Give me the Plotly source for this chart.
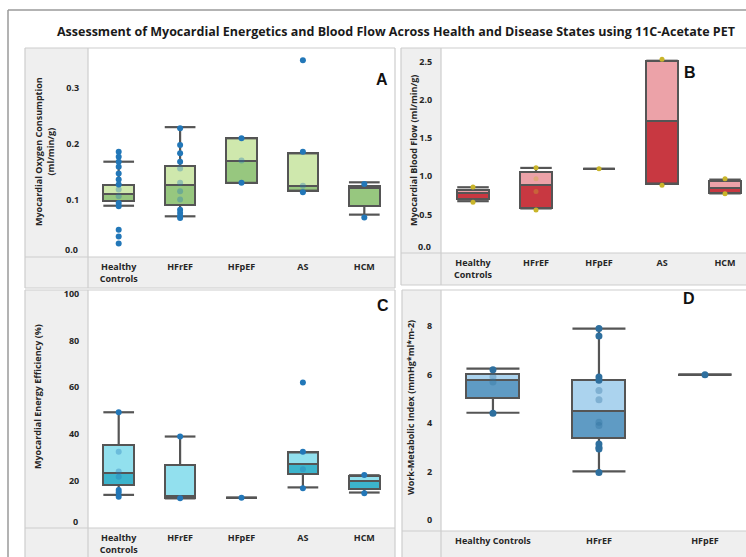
import plotly.graph_objects as go

# ---------------- data ----------------
cats_main = ["Healthy<br>Controls", "HFrEF", "HFpEF", "AS", "HCM"]
cats_D = ["Healthy Controls", "HFrEF", "HFpEF"]

# Panel A: Myocardial Oxygen Consumption (ml/min/g)
A_ticks = [0.0, 0.1, 0.2, 0.3]
A_q1 = [0.098, 0.091, 0.130, 0.116, 0.088]
A_med = [0.110, 0.127, 0.170, 0.125, 0.121]
A_q3 = [0.127, 0.161, 0.210, 0.183, 0.124]
A_lo = [0.089, 0.070, 0.130, 0.116, 0.073]
A_hi = [0.168, 0.230, 0.210, 0.183, 0.131]
A_pts = [
    [0.186, 0.177, 0.168, 0.159, 0.147, 0.136, 0.127, 0.118, 0.106, 0.094, 0.088, 0.046, 0.034, 0.021],
    [0.228, 0.198, 0.183, 0.168, 0.156, 0.130, 0.115, 0.100, 0.082, 0.076, 0.070, 0.067],
    [0.210, 0.170, 0.130],
    [0.350, 0.186, 0.125, 0.113],
    [0.128, 0.068],
]

# Panel B: Myocardial Blood Flow (ml/min/g)
B_ticks = [0.0, 0.5, 1.0, 1.5, 2.0, 2.5]
B_q1 = [0.700, 0.580, 1.096, 0.904, 0.785]
B_med = [0.775, 0.880, 1.096, 1.716, 0.850]
B_q3 = [0.820, 1.050, 1.096, 2.510, 0.940]
B_lo = [0.673, 0.578, 1.096, 0.904, 0.775]
B_hi = [0.855, 1.108, 1.096, 2.510, 0.955]
B_pts = [
    [0.86, 0.66],
    [1.11, 0.965, 0.80, 0.556],
    [1.096],
    [2.53, 0.88],
    [0.965, 0.77],
]

# Panel C: Myocardial Energy Efficiency (%)
C_ticks = [0, 20, 40, 60, 80, 100]
C_q1 = [18.1, 12.4, 12.7, 22.7, 16.3]
C_med = [23.4, 13.4, 12.7, 27.0, 19.9]
C_q3 = [35.3, 26.7, 12.7, 32.1, 21.8]
C_lo = [13.9, 12.4, 12.7, 17.1, 14.9]
C_hi = [49.3, 38.9, 12.7, 32.1, 22.3]
C_pts = [
    [49.3, 32.4, 23.9, 21.7, 16.0, 14.9, 13.1],
    [38.9, 12.4],
    [12.7],
    [62.1, 32.4, 24.9, 16.7],
    [22.4, 14.6],
]

# Panel D: Work-Metabolic Index
D_ticks = [0, 2, 4, 6, 8]
D_q1 = [5.05, 3.39, 6.0]
D_med = [5.79, 4.52, 6.0]
D_q3 = [6.04, 5.79, 6.0]
D_lo = [4.43, 2.01, 6.0]
D_hi = [6.25, 7.90, 6.0]
D_pts = [
    [6.2, 5.9, 5.7, 4.41],
    [7.9, 7.59, 5.9, 5.77, 5.35, 4.97, 4.04, 3.9, 3.14, 3.0, 2.94, 1.97],
    [6.0],
]

TITLE = "Assessment of Myocardial Energetics and Blood Flow Across Health and Disease States using 11C-Acetate PET"

# ---------------- layout helpers ----------------
W, H = 746, 557
def px(x):
    return x / W
def py(y):
    return 1 - y / H

FONT = "Open Sans"
OUT = "#555555"
BOXW = 0.5
BAND = "#efefef"
EDGE = "#cdcdcd"
TXT = "#262626"

panels = [
    dict(name="A", xa="x", ya="y", cats=cats_main, ticks=A_ticks, q1=A_q1, med=A_med, q3=A_q3, lo=A_lo, hi=A_hi, pts=A_pts,
         light="#cfe8ad", dark="#97c77f", ptc="#2277b8", ps=6,
         frame=(25, 48, 395, 288), plot=(88, 48, 395, 257),
         xr=[-0.5, 4.5], yr=[-0.003, 0.372], fmt=".1f", lift0=True,
         ytitle="Myocardial Oxygen Consumption<br>(ml/min/g)", yt=(44, 152),
         letter=(382, 79)),
    dict(name="B", xa="x2", ya="y2", cats=cats_main, ticks=B_ticks, q1=B_q1, med=B_med, q3=B_q3, lo=B_lo, hi=B_hi, pts=B_pts,
         light="#eca2a8", dark="#c83841", ptc="#c9b52a", ps=5,
         frame=(401, 48, 760, 285), plot=(441, 48, 746, 253),
         xr=[-0.508, 4.333], yr=[-0.005, 2.677], fmt=".1f", lift0=True,
         ytitle="Myocardial Blood Flow (ml/min/g)", yt=(413, 151),
         letter=(690, 72)),
    dict(name="C", xa="x3", ya="y3", cats=cats_main, ticks=C_ticks, q1=C_q1, med=C_med, q3=C_q3, lo=C_lo, hi=C_hi, pts=C_pts,
         light="#92e0ee", dark="#3cb4cc", ptc="#2277b8", ps=6,
         frame=(25, 290, 395, 570), plot=(88, 290, 395, 528),
         xr=[-0.5, 4.5], yr=[-0.3, 101.7], fmt="d", lift0=True,
         ytitle="Myocardial Energy Efficiency (%)", yt=(37, 397),
         letter=(383, 305)),
    dict(name="D", xa="x4", ya="y4", cats=cats_D, ticks=D_ticks, q1=D_q1, med=D_med, q3=D_q3, lo=D_lo, hi=D_hi, pts=D_pts,
         light="#abd3ee", dark="#5f9bc4", ptc="#2e6f9e", ps=7,
         frame=(402, 290, 760, 570), plot=(441, 290, 746, 531),
         xr=[-0.49, 2.387], yr=[-0.445, 9.49], fmt="d", lift0=False,
         ytitle="Work-Metabolic Index (mmHg*ml*m-2)", yt=(410, 408),
         letter=(689, 298)),
]

fig = go.Figure()
shapes = []
annotations = []

def hline(x0, x1, y, color=EDGE, w=1.2):
    return dict(type="line", xref="paper", yref="paper", layer="above",
                x0=px(x0), x1=px(x1), y0=py(y), y1=py(y), line=dict(color=color, width=w))

def vline(x, y0, y1, color=EDGE, w=1.2):
    return dict(type="line", xref="paper", yref="paper", layer="above",
                x0=px(x), x1=px(x), y0=py(y0), y1=py(y1), line=dict(color=color, width=w))

for i, p in enumerate(panels):
    n = len(p["cats"])
    idx = list(range(n))
    # lower half of box (Q1 -> median)
    fig.add_trace(go.Bar(
        x=idx, base=p["q1"], y=[m - q for m, q in zip(p["med"], p["q1"])], width=BOXW,
        marker=dict(color=p["dark"], line=dict(color=OUT, width=2)),
        xaxis=p["xa"], yaxis=p["ya"], showlegend=False, hoverinfo="skip"))
    # upper half of box (median -> Q3)
    fig.add_trace(go.Bar(
        x=idx, base=p["med"], y=[q - m for q, m in zip(p["q3"], p["med"])], width=BOXW,
        marker=dict(color=p["light"], line=dict(color=OUT, width=2)),
        xaxis=p["xa"], yaxis=p["ya"], showlegend=False, hoverinfo="skip"))
    # whiskers and caps
    wx, wy = [], []
    for k in idx:
        wx += [k, k, None, k, k, None]
        wy += [p["q3"][k], p["hi"][k], None, p["q1"][k], p["lo"][k], None]
        wx += [k - BOXW / 2, k + BOXW / 2, None, k - BOXW / 2, k + BOXW / 2, None]
        wy += [p["hi"][k], p["hi"][k], None, p["lo"][k], p["lo"][k], None]
    fig.add_trace(go.Scatter(
        x=wx, y=wy, mode="lines", line=dict(color=OUT, width=2.2),
        xaxis=p["xa"], yaxis=p["ya"], showlegend=False, hoverinfo="skip"))
    # data points
    px_, py_, op = [], [], []
    for k in idx:
        for v in p["pts"][k]:
            px_.append(k)
            py_.append(v)
            rng = p["q3"][k] - p["q1"][k]
            inside = rng > 0 and (p["q1"][k] + 0.04 * rng) < v < (p["q3"][k] - 0.04 * rng)
            op.append(0.35 if inside else 1.0)
    fig.add_trace(go.Scatter(
        x=px_, y=py_, mode="markers",
        marker=dict(color=p["ptc"], size=p["ps"], opacity=op, line=dict(width=0)),
        xaxis=p["xa"], yaxis=p["ya"], showlegend=False, hoverinfo="skip"))

    fx0, fy0, fx1, fy1 = p["frame"]
    lx0, ly0, lx1, ly1 = p["plot"]
    # grey axis bands (left band and bottom band)
    shapes.append(dict(type="rect", xref="paper", yref="paper", layer="below",
                       x0=px(fx0), x1=px(lx0), y0=py(fy1), y1=py(fy0),
                       fillcolor=BAND, line=dict(width=0)))
    shapes.append(dict(type="rect", xref="paper", yref="paper", layer="below",
                       x0=px(fx0), x1=px(fx1), y0=py(fy1), y1=py(ly1),
                       fillcolor=BAND, line=dict(width=0)))
    # frame and separators
    shapes.append(hline(fx0, fx1, fy0))
    shapes.append(hline(fx0, fx1, fy1))
    shapes.append(vline(fx0, fy0, fy1))
    shapes.append(vline(fx1, fy0, fy1))
    shapes.append(vline(lx0, fy0, fy1))
    shapes.append(hline(fx0, fx1, ly1))

    ticks = p["ticks"]
    shown = ticks[1:] if p["lift0"] else ticks
    axis_suffix = "" if i == 0 else str(i + 1)
    fig.update_layout(**{
        "xaxis" + axis_suffix: dict(
            domain=[px(lx0), min(1.0, px(lx1))], anchor="y" + axis_suffix,
            range=p["xr"], tickmode="array", tickvals=idx, ticktext=p["cats"],
            showgrid=False, zeroline=False, showline=False, fixedrange=True, automargin=False,
            ticks="outside", ticklen=1, tickcolor="rgba(0,0,0,0)",
            tickfont=dict(family=FONT, size=9, color=TXT, weight="bold")),
        "yaxis" + axis_suffix: dict(
            domain=[py(ly1), py(ly0)], anchor="x" + axis_suffix,
            range=p["yr"], tickmode="array", tickvals=shown,
            ticktext=[format(t, p["fmt"]) if p["fmt"] != "d" else str(int(t)) for t in shown],
            showgrid=False, zeroline=False, showline=False, fixedrange=True, automargin=False,
            ticks="outside", ticklen=6, tickcolor="rgba(0,0,0,0)",
            tickfont=dict(family=FONT, size=9, color=TXT, weight="bold")),
    })
    if p["lift0"]:
        t0 = ticks[0]
        annotations.append(dict(
            text=format(t0, p["fmt"]) if p["fmt"] != "d" else str(int(t0)),
            xref="paper", yref=p["ya"], x=px(lx0), y=t0, xanchor="right", yanchor="middle",
            xshift=-8, yshift=6, showarrow=False,
            font=dict(family=FONT, size=9, color=TXT, weight="bold")))

    annotations.append(dict(
        text=p["ytitle"], xref="paper", yref="paper", x=px(p["yt"][0]), y=py(p["yt"][1]),
        xanchor="center", yanchor="middle", textangle=-90, showarrow=False,
        font=dict(family=FONT, size=9, color=TXT, weight="bold")))
    annotations.append(dict(
        text=p["name"], xref="paper", yref="paper", x=px(p["letter"][0]), y=py(p["letter"][1]),
        xanchor="center", yanchor="middle", showarrow=False,
        font=dict(family="Liberation Sans", size=16, color="#111111", weight="bold")))

# outer frame
shapes.append(dict(type="line", xref="paper", yref="paper", x0=px(8), x1=px(8), y0=0, y1=py(10),
                   line=dict(color="#9a9a9a", width=1.5)))
shapes.append(dict(type="line", xref="paper", yref="paper", x0=px(8), x1=1, y0=py(10), y1=py(10),
                   line=dict(color="#9a9a9a", width=1.5)))

annotations.append(dict(
    text=TITLE, xref="paper", yref="paper", x=px(396), y=py(32), xanchor="center", yanchor="middle",
    showarrow=False, font=dict(family=FONT, size=12.5, color="#1a1a1a", weight="bold")))

fig.update_layout(
    width=W, height=H, margin=dict(l=0, r=0, t=0, b=0, autoexpand=False),
    paper_bgcolor="white", plot_bgcolor="white",
    barmode="overlay", bargap=0, showlegend=False,
    shapes=shapes, annotations=annotations,
)

fig.write_html("out.html", config={"displayModeBar": False},
               post_script="document.body.style.margin='0';document.body.style.overflow='hidden';")
